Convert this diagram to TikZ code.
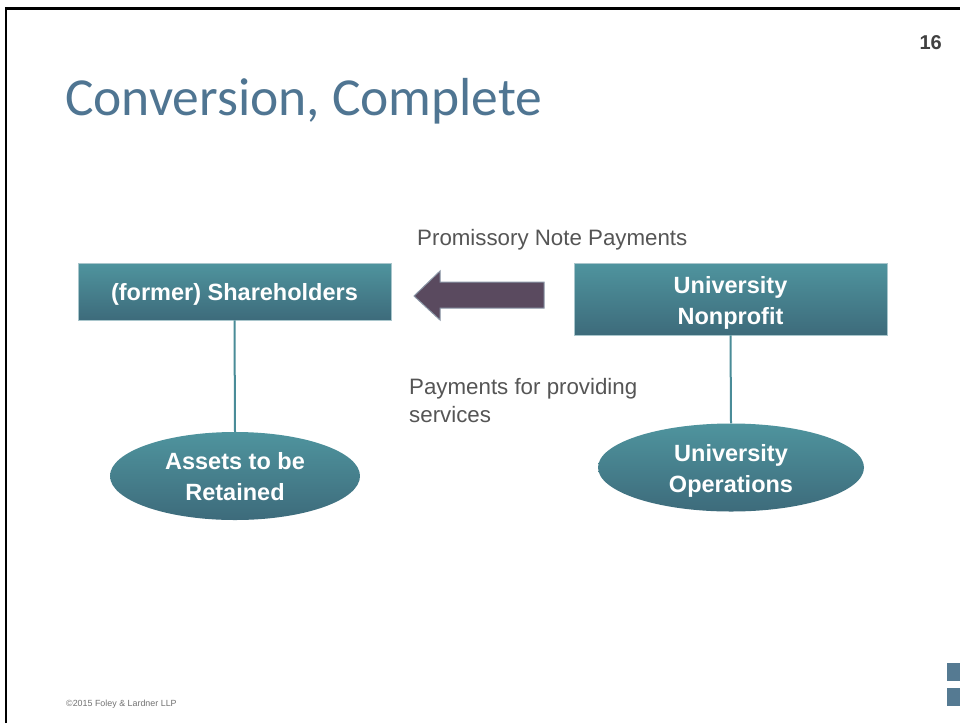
\documentclass[tikz,border=0pt]{standalone}
\usepackage{fontspec}
\setmainfont{Liberation Sans}
\newfontfamily\titlefont{Carlito}
\usetikzlibrary{shapes.geometric}
\definecolor{titleblue}{HTML}{4F7592}
\definecolor{tealtop}{HTML}{4F949E}
\definecolor{tealbot}{HTML}{3D6B7B}
\definecolor{tealline}{HTML}{4A8C98}
\definecolor{boxedge}{HTML}{A9C6CC}
\definecolor{arrowfill}{HTML}{5A4A5F}
\definecolor{arrowedge}{HTML}{8A96A6}
\definecolor{labelgray}{HTML}{555555}
\definecolor{sqblue}{HTML}{557A92}
\tikzset{
  x=1pt,y=-1pt,
  tealbox/.style={rectangle, draw=boxedge, line width=0.8pt, top color=tealtop, bottom color=tealbot, inner sep=0pt},
  tealell/.style={ellipse, top color=tealtop, bottom color=tealbot, inner sep=0pt},
  shapetext/.style={text=white, font=\bfseries\fontsize{23.5}{31}\selectfont, align=center, inner sep=0pt},
  link/.style={draw=tealline, line width=2pt},
  lbl/.style={text=labelgray, font=\fontsize{22.3}{28}\selectfont, align=left, inner sep=0pt}
}
\begin{document}
\begin{tikzpicture}
\useasboundingbox (0,0) rectangle (960,723);
\fill[white] (0,0) rectangle (960,723);
% frame
\draw[line width=2.5pt, black] (6,723) -- (6,8.5) -- (960,8.5);
% page number
\node[font=\bfseries\fontsize{20}{22}\selectfont, text=black!75, anchor=base east, inner sep=0pt] (pnum) at (942,49) {16};
% title
\node[font=\titlefont\fontsize{53.5}{60}\selectfont, text=titleblue, anchor=base west, inner sep=0pt] (title) at (65,115) {Conversion, Complete};
% boxes
\node[tealbox, minimum width=313, minimum height=57] (sh) at (234.5,291.5) {};
\node[shapetext] (shT) at ([yshift=-3pt]sh.center) {(former) Shareholders};
\node[tealbox, minimum width=313, minimum height=72] (un) at (730.5,299) {};
\node[shapetext] (unT) at ([yshift=-4pt]un.center) {University\\Nonprofit};
% ellipses
\node[tealell, minimum width=250, minimum height=88] (as) at (235,476) {};
\node[shapetext] (asT) at ([yshift=-1pt]as.center) {Assets to be\\Retained};
\node[tealell, minimum width=266, minimum height=88] (uo) at (731,467.5) {};
\node[shapetext] (uoT) at ([yshift=-3pt]uo.center) {University\\Operations};
% links
\draw[link] (sh.south) -- (as.north);
\draw[link] (un.south) -- (uo.north);
% block arrow
\filldraw[fill=arrowfill, draw=arrowedge, line width=1pt]
  (544,282) -- (440,282) -- (440,271) -- (414,296) -- (440,320) -- (440,308) -- (544,308) -- cycle;
% labels
\node[lbl, anchor=base west] (pnp) at (417,245) {Promissory Note Payments};
\node[lbl, anchor=north west] (pps) at (409,378) {Payments for providing\\services};
% footer
\node[font=\fontsize{8.9}{10}\selectfont, text=black!55, anchor=base west, inner sep=0pt] (foot) at (66,706) {\textcopyright 2015 Foley \& Lardner LLP};
\fill[sqblue] (947,663) rectangle (960,681);
\fill[sqblue] (947,688) rectangle (960,706);
\end{tikzpicture}
\end{document}
